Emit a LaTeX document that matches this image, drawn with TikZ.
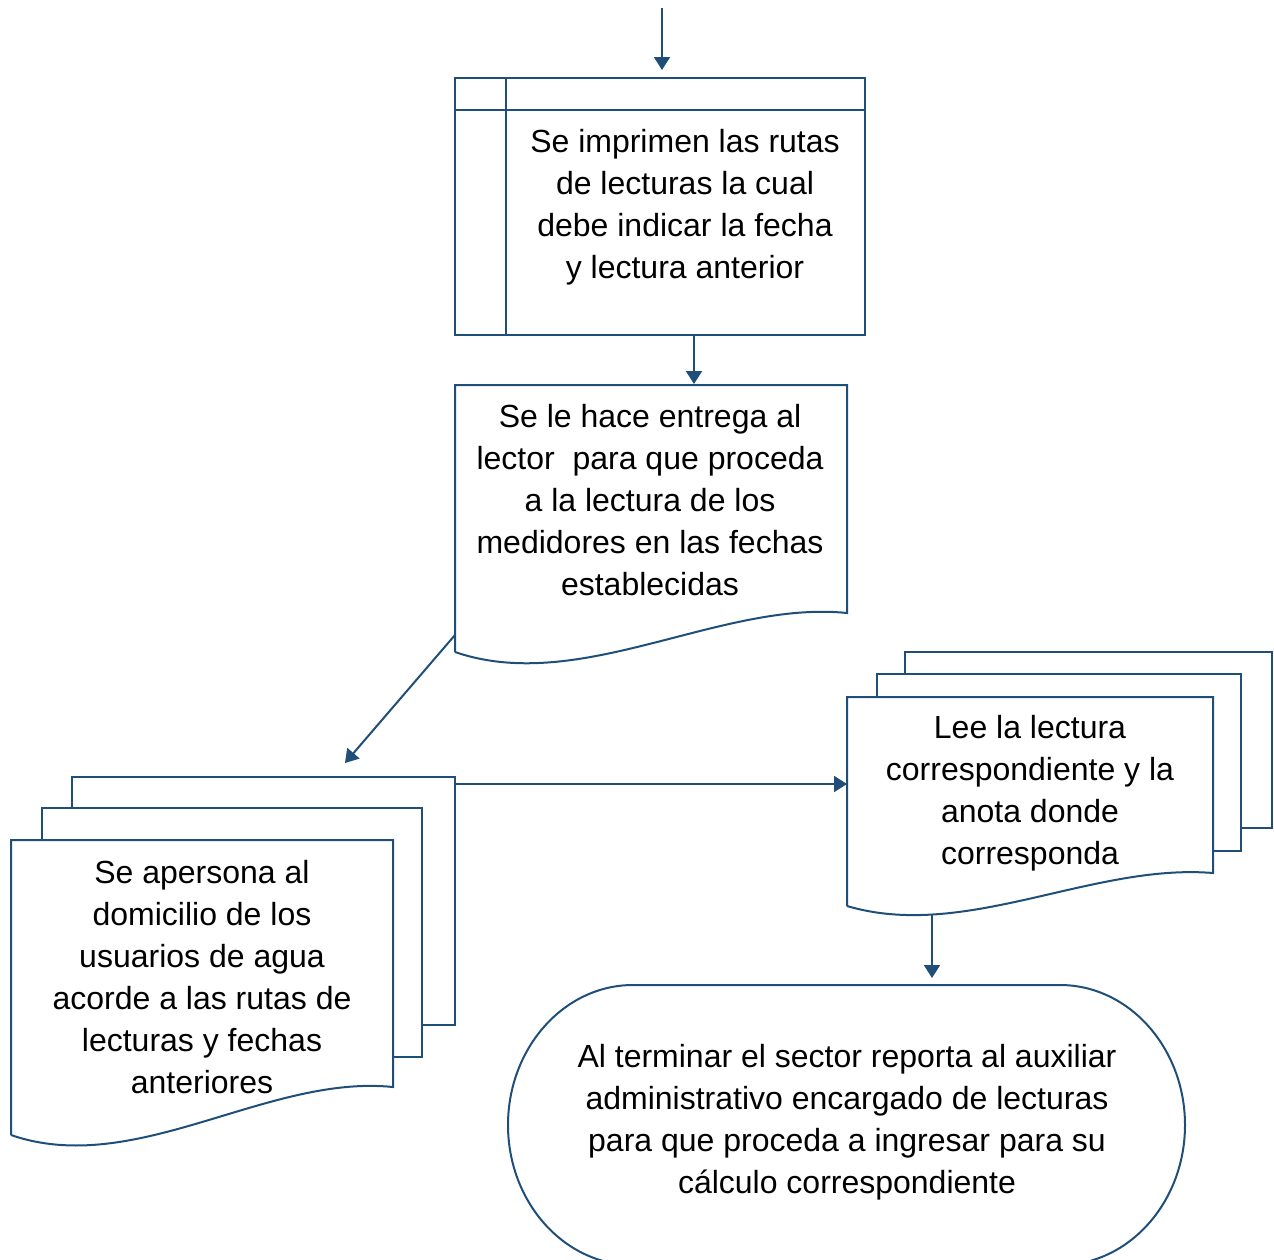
\documentclass[tikz,border=0pt]{standalone}
\usepackage{fontspec}
\setmainfont{Liberation Sans}
\usepackage{xcolor}
\usetikzlibrary{arrows.meta}
\definecolor{flowblue}{RGB}{31,78,121}

\begin{document}
\begin{tikzpicture}[x=0.5pt, y=-0.5pt,
  line/.style={draw=flowblue, line width=1pt, line join=miter},
  link/.style={line, -{Triangle[length=6.5pt,width=8pt]}},
  txt/.style={align=center, font=\fontsize{16}{21}\selectfont, inner sep=0pt}]
  % canvas in pixel units, y pointing down
  \useasboundingbox (0,0) rectangle (1274,1259);
  \clip (0,0) rectangle (1274,1259);

  % internal storage: print the routes
  \draw[line] (455,78) rectangle (865,335);
  \draw[line] (455,110) -- (865,110);
  \draw[line] (506,78) -- (506,335);
  \node[txt] (print) at (685,207) {Se imprimen las rutas\\de lecturas la cual\\debe indicar la fecha\\y lectura anterior};
  \coordinate (entry) at (662,8);
  \coordinate (printN) at (662,70);
  \coordinate (printS) at (694,335);

  % document: hand over to the reader
  \draw[line] (455,652) -- (455,385) -- (847,385) -- (847,613)
    .. controls (720,600) and (580,695) .. (455,652);
  \node[txt] (deliver) at (650,500) {Se le hace entrega al\\lector~ para que proceda\\a la lectura de los\\medidores en las fechas\\establecidas};
  \coordinate (deliverN) at (694,384);
  \coordinate (deliverW) at (455,635);

  % multi-document (left): visit the users
  \draw[line] (72,808) -- (72,777) -- (455,777) -- (455,1025) -- (422,1025);
  \draw[line] (42,840) -- (42,808) -- (422,808) -- (422,1057) -- (393,1057);
  \draw[line] (11,1135) -- (11,840) -- (393,840) -- (393,1087)
    .. controls (267,1074) and (135,1178) .. (11,1135);
  \node[txt] (visit) at (202,977) {Se apersona al\\domicilio de los\\usuarios de agua\\acorde a las rutas de\\lecturas y fechas\\anteriores};
  \coordinate (visitN) at (345,763);
  \coordinate (visitE) at (455,784);

  % multi-document (right): read the meter
  \draw[line] (905,674) -- (905,652) -- (1272,652) -- (1272,828) -- (1241,828);
  \draw[line] (877,697) -- (877,674) -- (1241,674) -- (1241,851) -- (1213,851);
  \draw[line] (847,906) -- (847,697) -- (1213,697) -- (1213,873)
    .. controls (1092,863) and (965,941) .. (847,906);
  \node[txt] (read) at (1030,793) {Lee la lectura\\correspondiente y la\\anota donde\\corresponda};
  \coordinate (readW) at (847,784);
  \coordinate (readS) at (932,915);

  % terminal: report to the assistant
  \draw[line] (633,985) -- (1060,985)
    .. controls (1129,985) and (1185,1048) .. (1185,1125)
    .. controls (1185,1202) and (1129,1265) .. (1060,1265) -- (633,1265)
    .. controls (564,1265) and (508,1202) .. (508,1125)
    .. controls (508,1048) and (564,985) .. (633,985) -- cycle;
  \node[txt] (report) at (847,1122) {Al terminar el sector reporta al auxiliar\\administrativo encargado de lecturas\\para que proceda a ingresar para su\\cálculo correspondiente};
  \coordinate (reportN) at (932,978);

  % connectors
  \draw[link] (entry) -- (printN);
  \draw[link] (printS) -- (deliverN);
  \draw[link] (deliverW) -- (visitN);
  \draw[link] (visitE) -- (readW);
  \draw[link] (readS) -- (reportN);
\end{tikzpicture}
\end{document}
